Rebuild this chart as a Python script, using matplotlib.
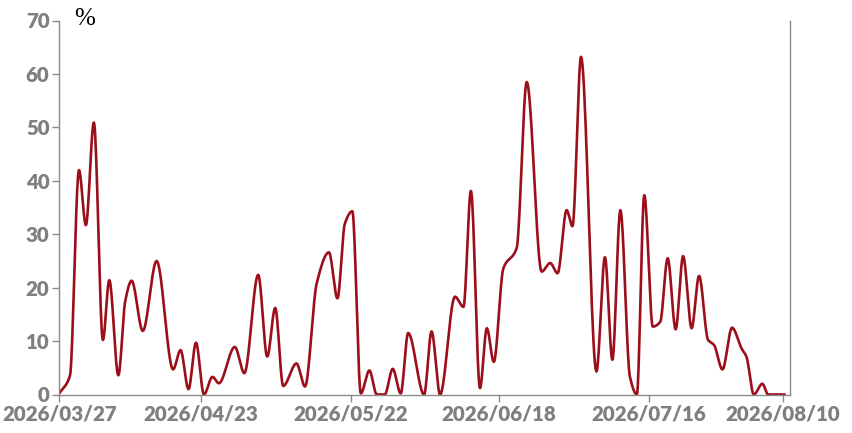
import numpy as np
import matplotlib
matplotlib.use("Agg")
import matplotlib.pyplot as plt

# ------------------------------- DATA (read off) ------------------------------ #
# x = day offset from 2026/03/27, y = percent
day = [0.0, 2.0, 3.7, 5.0, 6.5, 8.2, 9.4, 11.1, 12.4, 13.6, 15.7, 18.3, 21.4, 22.8,
       24.3, 25.7, 27.2, 28.8, 30.0, 33.0, 34.8, 37.4, 39.1, 40.6, 42.1, 44.6, 46.2,
       48.4, 50.7, 52.3, 53.7, 55.1, 56.7, 58.3, 59.7, 61.2, 62.7, 64.2, 65.6, 68.6,
       70.0, 71.6, 74.4, 76.0, 77.4, 79.1, 80.4, 81.7, 83.5, 86.0, 87.9, 90.7, 92.3,
       93.7, 95.4, 96.5, 98.1, 101.0, 102.6, 104.0, 105.5, 107.3, 108.6, 110.0, 111.6,
       113.0, 114.4, 115.9, 117.3, 118.9, 120.3, 122.0, 123.1, 124.7, 126.5, 128.3,
       129.2, 130.6, 132.2, 133.3, 136.4]
pct = [0.2, 3.5, 42.0, 31.7, 50.9, 10.2, 21.4, 3.6, 17.5, 21.3, 11.9, 25.0, 4.7, 8.3,
       1.0, 9.7, 0.0, 3.3, 2.1, 8.9, 4.0, 22.4, 7.1, 16.2, 1.6, 5.8, 1.5,
       20.8, 26.6, 18.0, 32.0, 34.3, 0.2, 4.5, 0.0, 0.0, 4.8, 0.2, 11.5, 0.0,
       11.8, 0.0, 18.3, 16.4, 38.1, 1.2, 12.4, 6.1, 23.6, 27.4, 58.5, 23.0, 24.6,
       22.7, 34.5, 31.5, 63.2, 4.3, 25.7, 6.5, 34.5, 3.3, 0.0, 37.3, 12.7,
       13.6, 25.5, 12.2, 25.9, 12.4, 22.2, 10.2, 9.3, 4.7, 12.5, 8.6,
       7.1, 0.0, 2.0, 0.0, 0.0]

tick_labels = ['2026/03/27', '2026/04/23', '2026/05/22', '2026/06/18', '2026/07/16', '2026/08/10']
tick_pos = [0.0, 26.6, 54.8, 82.7, 110.8, 136.0]
y_ticks = [0, 10, 20, 30, 40, 50, 60, 70]


# ------------------------- SMOOTH LINE (monotone cubic) ----------------------- #
def monotone_curve(x, y, n=20):
    x = np.asarray(x, float)
    y = np.asarray(y, float)
    h = np.diff(x)
    d = np.diff(y) / h
    m = np.zeros_like(y)
    m[0], m[-1] = d[0], d[-1]
    for k in range(1, len(x) - 1):
        if d[k - 1] * d[k] > 0:
            w1 = 2 * h[k] + h[k - 1]
            w2 = h[k] + 2 * h[k - 1]
            m[k] = (w1 + w2) / (w1 / d[k - 1] + w2 / d[k])
    xs, ys = [], []
    for k in range(len(x) - 1):
        t = np.linspace(0, 1, n, endpoint=False)
        h00 = 2 * t**3 - 3 * t**2 + 1
        h10 = t**3 - 2 * t**2 + t
        h01 = -2 * t**3 + 3 * t**2
        h11 = t**3 - t**2
        xs.append(x[k] + t * h[k])
        ys.append(h00 * y[k] + h10 * h[k] * m[k] + h01 * y[k + 1] + h11 * h[k] * m[k + 1])
    xs.append([x[-1]])
    ys.append([y[-1]])
    return np.concatenate(xs), np.concatenate(ys)


xs, ys = monotone_curve(day, pct)

# ----------------------------------- FIGURE ----------------------------------- #
fig = plt.figure(figsize=(8.52, 4.33), dpi=100)
ax = fig.add_axes((59.3 / 852, 38.5 / 433, (790 - 59.3) / 852, (412.5 - 38.5) / 433))

ax.plot(xs, ys, color='#9c0e1a', linewidth=1.9, solid_capstyle='round')

grey = '#8a8a8a'
ax.set_xlim(0, 137.4)
ax.set_ylim(0, 70)
ax.spines['top'].set_visible(False)
for s in ('left', 'right', 'bottom'):
    ax.spines[s].set_color(grey)
    ax.spines[s].set_linewidth(1.0)

ax.set_xticks(tick_pos)
ax.set_xticklabels(tick_labels)
ax.set_yticks(y_ticks)
ax.tick_params(axis='both', colors=grey, length=5, width=1.0, pad=2,
               labelsize=14.8, labelcolor='#7f7f7f')
for lab in ax.get_xticklabels() + ax.get_yticklabels():
    lab.set_fontfamily('Lato')
    lab.set_fontweight('heavy')

ax.text(74 / 852, 1 - 19 / 433, '%', transform=fig.transFigure, fontsize=18,
        family='Liberation Serif', color='black', va='center', ha='left')

fig.savefig('out.png', dpi=100)
